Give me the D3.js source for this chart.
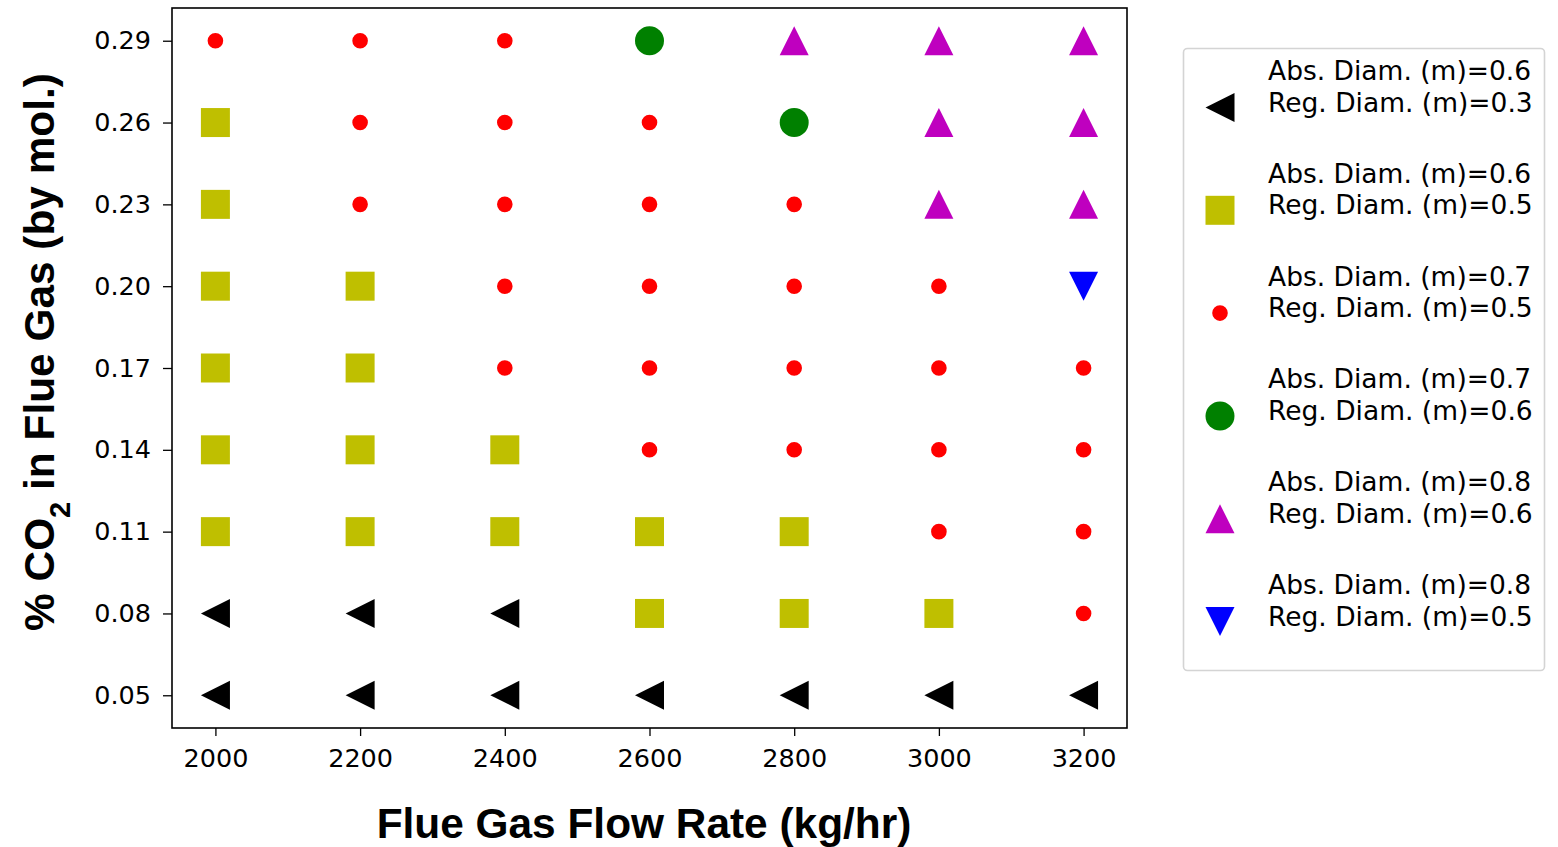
<!DOCTYPE html>
<html>
<head>
<meta charset="utf-8">
<script src="https://cdn.jsdelivr.net/npm/d3@7"></script>
<style>
  body { margin: 0; background: #fff; }
  svg { display: block; }
</style>
</head>
<body>
<svg id="chart" width="1558" height="847"></svg>
<script>
// flow rates (kg/hr) and CO2 fractions on the grid
const flowRates = [2000, 2200, 2400, 2600, 2800, 3000, 3200];
const co2Fracs = [0.29, 0.26, 0.23, 0.20, 0.17, 0.14, 0.11, 0.08, 0.05];
const yTicks = [0.05, 0.08, 0.11, 0.14, 0.17, 0.20, 0.23, 0.26, 0.29];

// design category for each (co2 row, flow column), rows top->bottom
// 0 = abs .6/reg .3, 1 = abs .6/reg .5, 2 = abs .7/reg .5,
// 3 = abs .7/reg .6, 4 = abs .8/reg .6, 5 = abs .8/reg .5
const designGrid = [
  [2, 2, 2, 3, 4, 4, 4],
  [1, 2, 2, 2, 3, 4, 4],
  [1, 2, 2, 2, 2, 4, 4],
  [1, 1, 2, 2, 2, 2, 5],
  [1, 1, 2, 2, 2, 2, 2],
  [1, 1, 1, 2, 2, 2, 2],
  [1, 1, 1, 1, 1, 2, 2],
  [0, 0, 0, 1, 1, 1, 2],
  [0, 0, 0, 0, 0, 0, 0]
];

const absDiam = ["0.6", "0.6", "0.7", "0.7", "0.8", "0.8"];
const regDiam = ["0.3", "0.5", "0.5", "0.6", "0.6", "0.5"];
const catColors = ["#000000", "#bfbf00", "#ff0000", "#008000", "#bf00bf", "#0000ff"];
const catShapes = ["tri-left", "square", "dot", "circle", "tri-up", "tri-down"];

const points = [];
co2Fracs.forEach((c, i) => {
  flowRates.forEach((f, j) => {
    points.push({ flow: f, co2: c, cat: designGrid[i][j] });
  });
});

const svg = d3.select("#chart");
const plot = { left: 172, top: 8, right: 1127, bottom: 728 };

const x = d3.scaleLinear().domain([1940, 3260]).range([plot.left, plot.right]);
const y = d3.scaleLinear().domain([0.038, 0.302]).range([plot.bottom, plot.top]);

const S = 29;   // marker size in px
function markerPath(shape) {
  const h = S / 2;
  switch (shape) {
    case "tri-left": return `M${-h},0L${h},${-h}L${h},${h}Z`;
    case "tri-up": return `M0,${-h}L${h},${h}L${-h},${h}Z`;
    case "tri-down": return `M0,${h}L${h},${-h}L${-h},${-h}Z`;
    case "square": return `M${-h},${-h}H${h}V${h}H${-h}Z`;
    case "circle": return d3.arc()({ innerRadius: 0, outerRadius: h, startAngle: 0, endAngle: 2 * Math.PI });
    case "dot": return d3.arc()({ innerRadius: 0, outerRadius: 7.8, startAngle: 0, endAngle: 2 * Math.PI });
  }
}

// axes
const tickFont = "'DejaVu Sans', sans-serif";
const xAxis = svg.append("g")
  .attr("transform", `translate(0,${plot.bottom})`)
  .call(d3.axisBottom(x).tickValues(flowRates).tickFormat(d3.format("d")).tickSize(8).tickPadding(13));
const yAxis = svg.append("g")
  .attr("transform", `translate(${plot.left},0)`)
  .call(d3.axisLeft(y).tickValues(yTicks).tickFormat(d3.format(".2f")).tickSize(9).tickPadding(12));

[xAxis, yAxis].forEach(a => {
  a.select(".domain").remove();
  a.selectAll(".tick line").attr("stroke", "#000").attr("stroke-width", 1.3);
  a.selectAll(".tick text")
    .attr("fill", "#000")
    .style("font-family", tickFont)
    .style("font-size", "25.5px");
});

// markers
svg.append("g").selectAll("path")
  .data(points)
  .join("path")
  .attr("transform", d => `translate(${x(d.flow)},${y(d.co2)})`)
  .attr("d", d => markerPath(catShapes[d.cat]))
  .attr("fill", d => catColors[d.cat]);

// frame
svg.append("rect")
  .attr("x", plot.left).attr("y", plot.top)
  .attr("width", plot.right - plot.left).attr("height", plot.bottom - plot.top)
  .attr("fill", "none").attr("stroke", "#000").attr("stroke-width", 1.6);

// axis titles
const titleFont = "'Liberation Sans', Arial, sans-serif";
svg.append("text")
  .attr("x", 644).attr("y", 838)
  .attr("text-anchor", "middle")
  .style("font-family", titleFont).style("font-weight", "bold").style("font-size", "42.4px")
  .text("Flue Gas Flow Rate (kg/hr)");

const yTitle = svg.append("text")
  .attr("transform", "translate(54,352) rotate(-90)")
  .attr("text-anchor", "middle")
  .style("font-family", titleFont).style("font-weight", "bold").style("font-size", "42.4px");
yTitle.append("tspan").text("% CO");
yTitle.append("tspan").attr("baseline-shift", "sub").style("font-size", "29px").text("2");
yTitle.append("tspan").text(" in Flue Gas (by mol.)");

// legend
const legend = svg.append("g");
legend.append("rect")
  .attr("x", 1183.5).attr("y", 48.5).attr("width", 361).attr("height", 622).attr("rx", 4)
  .attr("fill", "#fff").attr("stroke", "#d4d4d4").attr("stroke-width", 1.6);

const entries = legend.selectAll("g.entry")
  .data(d3.range(absDiam.length))
  .join("g")
  .attr("class", "entry")
  .attr("transform", i => `translate(0,${i * 102.8})`);

entries.append("path")
  .attr("transform", "translate(1220,107.5)")
  .attr("d", i => markerPath(catShapes[i]))
  .attr("fill", i => catColors[i]);

const lt = entries.append("text")
  .style("font-family", tickFont).style("font-size", "26.5px").attr("fill", "#000");
lt.append("tspan").attr("x", 1268).attr("y", 80).text(i => `Abs. Diam. (m)=${absDiam[i]}`);
lt.append("tspan").attr("x", 1268).attr("y", 111.5).text(i => `Reg. Diam. (m)=${regDiam[i]}`);
</script>
</body>
</html>
